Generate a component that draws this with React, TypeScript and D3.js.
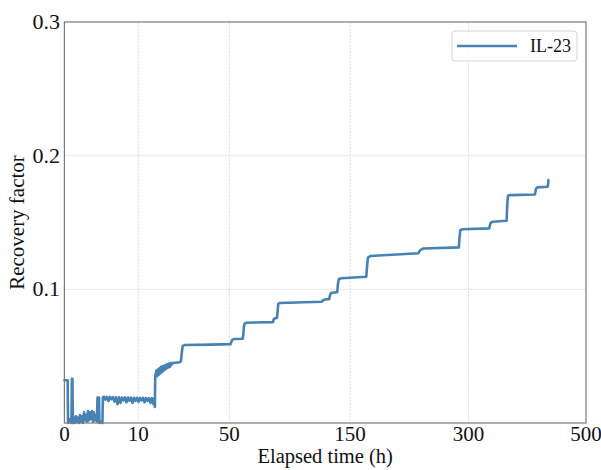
import React from "react";
import * as d3 from "d3";

// Elapsed time (hours) and recovery factor for well IL-23
const elapsedHours: number[] = [
  0, 0.02, 0.024, 0.06, 0.09, 0.104, 0.118, 0.135,
  0.169, 0.206, 0.247, 0.292, 0.34, 0.392, 0.447, 0.506, 0.569, 0.636, 0.706, 0.78,
  0.857, 0.938, 1.023, 1.112, 1.204, 1.3, 1.4, 1.503, 1.61, 1.72, 1.835, 1.95,
  2.013, 2.199, 2.26, 2.529, 2.66, 2.72,
  2.88, 3.1, 3.33, 3.57, 3.82, 4.08, 4.34, 4.61, 4.89, 5.18, 5.48, 5.78, 6.1, 6.42,
  6.75, 7.09, 7.43, 7.79, 8.15, 8.52, 8.9, 9.29, 9.68, 10.09, 10.5, 10.92, 11.35,
  11.79, 12.23, 12.69, 13.15, 13.62, 14.1, 14.59, 14.92,
  15.05, 15.15,
  15.25, 15.52, 15.79, 16.06, 16.34, 16.62, 16.9, 17.18, 17.47, 17.75, 18.04, 18.34,
  18.63, 18.93, 19.23, 19.53, 19.83, 20.14, 20.45, 20.76, 21.07, 21.5,
  24.5, 25.0, 25.3, 25.7, 26.5,
  40, 50.8, 51.3, 52, 53, 58.4, 58.8, 59.2, 59.8, 61,
  80.0, 80.5, 81.2, 83.0, 83.5, 84.0, 85.0,
  121.6, 123, 125, 128.9, 129.6, 131, 136.8, 137.5, 138.5, 141,
  167.5, 168.3, 169.3, 172, 230.1, 233, 237,
  286, 286.8, 288, 291, 331.7, 333.5, 337,
  359.4, 360.3, 361.5, 365, 406.9, 408.5, 411, 429.2, 430.0, 430.4,
];

const recoveryFactor: number[] = [
  0.032, 0.032, 0.0, 0.003, 0.0, 0.033, 0.033, 0.0,
  0.004, 0.0, 0.005, 0.001, 0.004, 0.0, 0.006, 0.001, 0.005, 0.0, 0.008, 0.002,
  0.006, 0.001, 0.009, 0.002, 0.008, 0.003, 0.009, 0.001, 0.008, 0.002, 0.006, 0.001,
  0.019, 0.019, 0.0, 0.001, 0.0, 0.019,
  0.0197, 0.0175, 0.0196, 0.0165, 0.0195, 0.0178, 0.0194, 0.016, 0.0193, 0.014,
  0.0192, 0.015, 0.0191, 0.017, 0.0191, 0.0155, 0.019, 0.0168, 0.019, 0.015,
  0.0189, 0.0165, 0.0189, 0.0158, 0.0188, 0.017, 0.0188, 0.0155, 0.0187, 0.0165,
  0.0186, 0.015, 0.0186, 0.014, 0.0185,
  0.012, 0.034,
  0.036, 0.039, 0.035, 0.04, 0.036, 0.041, 0.037, 0.042, 0.038, 0.0425, 0.039, 0.043,
  0.04, 0.0435, 0.041, 0.044, 0.0415, 0.0445, 0.042, 0.0448, 0.0435, 0.0449,
  0.0455, 0.0465, 0.052, 0.0575, 0.0583,
  0.0586, 0.059, 0.061, 0.0625, 0.0628, 0.063, 0.066, 0.072, 0.0745, 0.075,
  0.0755, 0.0775, 0.0783, 0.0785, 0.083, 0.089, 0.0898,
  0.0907, 0.0918, 0.0925, 0.0927, 0.0955, 0.0975, 0.0978, 0.104, 0.1078, 0.1083,
  0.1094, 0.117, 0.1238, 0.1249, 0.127, 0.1295, 0.1305,
  0.1314, 0.138, 0.1443, 0.1449, 0.1456, 0.1495, 0.1506,
  0.1513, 0.162, 0.17, 0.1705, 0.171, 0.175, 0.1763, 0.1767, 0.179, 0.1817,
];

const xTicks: number[] = [0, 10, 50, 150, 300, 500];
const yTicks: number[] = [0.1, 0.2, 0.3];
const seriesName = "IL-23";

const W = 601;
const H = 470;
const FONT = "'Liberation Serif', 'DejaVu Serif', serif";

export default function App() {
  const left = 64.4;
  const right = 586;
  const top = 22;
  const bottom = 423;

  const x = d3.scaleSqrt().domain([0, 500]).range([left, right]);
  const y = d3.scaleLinear().domain([0, 0.3]).range([bottom, top]);

  const points: [number, number][] = elapsedHours.map((h, i) => [h, recoveryFactor[i]]);
  const path = d3
    .line<[number, number]>()
    .x((d) => x(d[0]))
    .y((d) => y(d[1]))(points) as string;

  const gridStyle = { stroke: "#d2d2d2", strokeWidth: 0.8, strokeDasharray: "2,1.2" };

  return (
    <svg
      width={W}
      height={H}
      style={{ position: "absolute", left: 0, top: 0, background: "#fff" }}
      fontFamily={FONT}
    >
      <rect x={0} y={0} width={W} height={H} fill="#fff" />
      {/* grid */}
      {xTicks
        .filter((t) => t > 0 && t < 500)
        .map((t) => (
          <line key={"gx" + t} x1={x(t)} x2={x(t)} y1={top} y2={bottom} {...gridStyle} />
        ))}
      {yTicks
        .filter((t) => t < 0.3)
        .map((t) => (
          <line key={"gy" + t} x1={left} x2={right} y1={y(t)} y2={y(t)} {...gridStyle} />
        ))}

      {/* series */}
      <path
        d={path}
        fill="none"
        stroke="#4682b4"
        strokeWidth={2.6}
        strokeLinejoin="round"
        strokeLinecap="round"
      />

      {/* frame */}
      <rect
        x={left}
        y={top}
        width={right - left}
        height={bottom - top}
        fill="none"
        stroke="#7a7a7a"
        strokeWidth={1.2}
      />

      {/* x tick labels */}
      {xTicks.map((t) => (
        <text key={"xt" + t} x={x(t)} y={441} textAnchor="middle" fontSize={21} fill="#111">
          {t}
        </text>
      ))}
      {/* y tick labels */}
      {yTicks.map((t) => (
        <text
          key={"yt" + t}
          x={60}
          y={y(t) + 7}
          textAnchor="end"
          fontSize={22}
          fill="#111"
        >
          {d3.format(".1f")(t)}
        </text>
      ))}

      {/* axis titles */}
      <text x={(left + right) / 2} y={463} textAnchor="middle" fontSize={20.5} fill="#111">
        Elapsed time (h)
      </text>
      <text
        transform={`translate(24, ${(top + bottom) / 2}) rotate(-90)`}
        textAnchor="middle"
        fontSize={21}
        fill="#111"
      >
        Recovery factor
      </text>

      {/* legend */}
      <g>
        <rect
          x={452}
          y={31}
          width={125}
          height={30}
          rx={3}
          fill="#fff"
          fillOpacity={0.85}
          stroke="#d6d6d6"
          strokeWidth={1}
        />
        <line x1={457} x2={517} y1={46} y2={46} stroke="#4682b4" strokeWidth={2.6} />
        <text x={530} y={52} fontSize={18} fill="#111">
          {seriesName}
        </text>
      </g>
    </svg>
  );
}
